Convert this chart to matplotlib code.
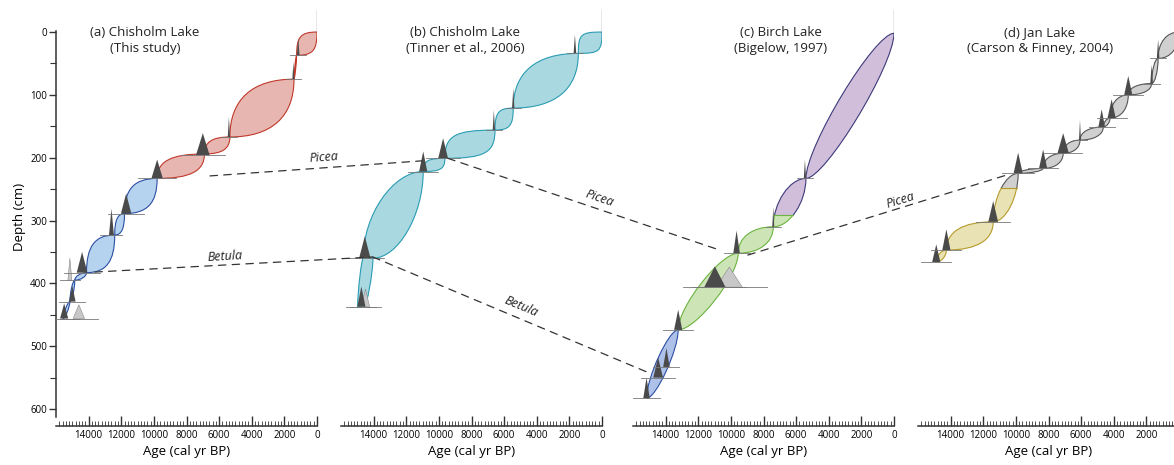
import numpy as np
import matplotlib
matplotlib.use("Agg")
import matplotlib.pyplot as plt
from matplotlib.path import Path
from matplotlib.patches import PathPatch, Rectangle, ConnectionPatch
from matplotlib.ticker import FixedLocator

plt.rcParams['font.family'] = ['Open Sans', 'DejaVu Sans']

# ---- data (age in cal yr BP, depth in cm) ----
# (a) Chisholm Lake, this study
a_env_age = [0, 1250, 1410, 5340, 6900, 9800, 11800, 12400, 14130, 14850, 15150, 15560]
a_env_depth = [0, 37, 75, 167, 194, 233, 289, 323, 383, 395, 429, 456]
a_env_spread = [0, 0, 0, 0, 0, 0, 0, 0, 0, 0, 0, 0]
a_env_bulge = [0.8, 0.3, 0.65, 0.7, 0.7, 0.7, 0.7, 0.7, 0.5, 0.4, 0.3]
a_zone_top = [-50, 233]
a_zone_fill = ['#e8b6b0', '#b5d2ee']
a_zone_edge = ['#c0392b', '#2c4fa3']
a_date_age = [1150, 1450, 5400, 7000, 9800, 11700, 12600, 14400, 15150, 15000, 14600, 15500]
a_date_depth = [37, 75, 167, 196, 233, 289, 323, 383, 395, 429, 456, 456]
a_date_width = [80, 60, 70, 420, 350, 320, 150, 330, 120, 200, 350, 250]
a_date_height = [28, 28, 32, 35, 30, 32, 42, 33, 35, 25, 22, 24]
a_date_tone = ['d', 'd', 'd', 'd', 'd', 'd', 'd', 'd', 'l', 'd', 'l', 'd']

# (b) Chisholm Lake, Tinner et al. 2006
b_env_age = [0, 1450, 5440, 6560, 9630, 10960, 14340, 14780]
b_env_depth = [0, 34, 121, 156, 201, 222, 360, 437]
b_env_spread = [0, 0, 0, 0, 0, 0, 300, 200]
b_env_bulge = [0.9, 0.65, 0.8, 0.8, 0.8, 0.5, 0.3]
b_zone_top = [-50]
b_zone_fill = ['#a9d8e0']
b_zone_edge = ['#2a9cb3']
b_date_age = [1660, 5440, 6630, 9740, 10960, 14540, 14500, 14750]
b_date_depth = [34, 121, 156, 201, 222, 360, 437, 437]
b_date_width = [80, 70, 70, 300, 250, 350, 250, 250]
b_date_height = [30, 32, 32, 32, 32, 35, 28, 32]
b_date_tone = ['d', 'd', 'd', 'd', 'd', 'd', 'l', 'd']

# (c) Birch Lake, Bigelow 1997
c_env_age = [0, 5400, 7400, 9550, 13230, 15170]
c_env_depth = [2, 233, 310, 352, 474, 583]
c_env_spread = [0, 0, 0, 0, 0, 0]
c_env_bulge = [0.22, 0.5, 0.6, 0.3, 0.3]
c_zone_top = [-50, 291, 474]
c_zone_fill = ['#d0bedb', '#cde5b6', '#aec1e8']
c_zone_edge = ['#3d3a7a', '#6cb33f', '#2c4fa3']
c_date_age = [5460, 7400, 9650, 10100, 10980, 13230, 13950, 14460, 15170]
c_date_depth = [233, 310, 352, 406, 406, 474, 533, 550, 583]
c_date_width = [70, 60, 200, 800, 650, 250, 200, 300, 200]
c_date_height = [30, 32, 36, 32, 33, 32, 30, 32, 33]
c_date_tone = ['d', 'd', 'd', 'l', 'd', 'd', 'd', 'd', 'd']

# (d) Jan Lake, Carson & Finney 2004
d_env_age = [0, 1280, 1680, 3110, 4230, 4640, 6070, 7100, 8330, 9860, 11390, 14260, 14880]
d_env_depth = [0, 42, 82, 100, 137, 151, 172, 193, 217, 225, 302, 347, 366]
d_env_spread = [0] * 13
d_env_bulge = [0.6, 0.5, 0.6, 0.6, 0.5, 0.6, 0.6, 0.6, 0.5, 0.5, 0.65, 0.5]
d_zone_top = [-50, 249]
d_zone_fill = ['#d0d0d0', '#e9e2b4']
d_zone_edge = ['#555555', '#b59a2a']
d_date_age = [1280, 1680, 3110, 4130, 4740, 6070, 7100, 8330, 9860, 11390, 14260, 14880]
d_date_depth = [42, 82, 100, 137, 151, 172, 193, 217, 225, 302, 347, 366]
d_date_width = [80, 80, 250, 250, 200, 60, 350, 250, 280, 300, 250, 250]
d_date_height = [30, 30, 30, 30, 28, 32, 32, 30, 33, 33, 33, 28]
d_date_tone = ['d'] * 12

titles = ['(a) Chisholm Lake\n(This study)',
          '(b) Chisholm Lake\n(Tinner et al., 2006)',
          '(c) Birch Lake\n(Bigelow, 1997)',
          '(d) Jan Lake\n(Carson & Finney, 2004)']
title_x = [0.341, 0.475, 0.567, 0.467]

# tick labels shown on each age axis (panel d is cut at the right edge)
age_ticks = [np.arange(0, 14001, 2000)] * 3 + [np.arange(2000, 14001, 2000)]

# correlation lines: (panel, age, depth) -> (panel, age, depth)
links = [
    ('Picea', 0, 6560, 229, 1, 11040, 205),
    ('Picea', 1, 9450, 201, 2, 10800, 346),
    ('Picea', 2, 8960, 355, 3, 10370, 226),
    ('Betula', 0, 13620, 382, 1, 14050, 358),
    ('Betula', 1, 14050, 358, 2, 14970, 543),
]
link_label_frac = [0.54, 0.55, 0.59, 0.47, 0.52]
link_label_off = [10, 11, 7, 8, 12]

CORE_TOP_STEM = -35

# ---- layout ----
W, H = 1174, 465
fig = plt.figure(figsize=(W / 100, H / 100), dpi=100)
AXIS_Y_PX = 426
TOP_PX = 6.9
PANEL_LEFT_PX = [56, 341, 633, 918]
PANEL_W_PX = 261

axes = []
for i, left in enumerate(PANEL_LEFT_PX):
    ax = fig.add_axes([left / W, (H - AXIS_Y_PX) / H, PANEL_W_PX / W, (AXIS_Y_PX - TOP_PX) / H])
    ax.set_xlim(16000, 0)
    ax.set_ylim(627, -40)
    ax.patch.set_alpha(0)
    for s in ['top', 'right']:
        ax.spines[s].set_visible(False)
    ax.spines['bottom'].set_color('#333333')
    ax.spines['bottom'].set_linewidth(1.1)
    ax.xaxis.set_major_locator(FixedLocator(age_ticks[i]))
    ax.xaxis.set_minor_locator(FixedLocator(np.arange(0, 16000, 200)))
    ax.tick_params(axis='x', which='major', direction='in', length=7, width=1,
                   color='#333333', pad=3, labelsize=7)
    ax.tick_params(axis='x', which='minor', direction='in', length=3.5, width=0.6,
                   color='#333333')
    ax.set_xlabel('Age (cal yr BP)', fontsize=9.5, labelpad=3)
    if i == 0:
        ax.spines['left'].set_bounds(-2, 612)
        ax.spines['left'].set_color('#333333')
        ax.spines['left'].set_linewidth(1.1)
        ax.yaxis.set_major_locator(FixedLocator(np.arange(0, 601, 100)))
        ax.yaxis.set_minor_locator(FixedLocator(np.arange(50, 601, 100)))
        ax.tick_params(axis='y', which='major', direction='out', length=5, width=1,
                       color='#333333', pad=1.5, labelsize=7)
        ax.tick_params(axis='y', which='minor', direction='out', length=4, width=0.8,
                       color='#333333')
        ax.set_ylabel('Depth (cm)', fontsize=9.5, labelpad=3)
    else:
        ax.spines['left'].set_visible(False)
        ax.tick_params(axis='y', which='both', left=False, labelleft=False)
    ax.text(title_x[i], 0.9187, titles[i], transform=ax.transAxes, ha='center',
            va='center', ma='center', fontsize=9.5, linespacing=1.3, color='#222222')
    axes.append(ax)


def cut_extent(path, depth):
    # horizontal extent of a closed path at a given depth
    xs = []
    for poly in path.to_polygons():
        for (x0, y0), (x1, y1) in zip(poly[:-1], poly[1:]):
            if (y0 - depth) * (y1 - depth) <= 0 and y0 != y1:
                xs.append(x0 + (depth - y0) * (x1 - x0) / (y1 - y0))
    return (min(xs), max(xs)) if xs else None


def envelope(ax, ages, depths, spread, bulge, zone_top, zone_fill, zone_edge):
    tops = list(zone_top)
    bots = tops[1:] + [1000]
    for i in range(len(ages) - 1):
        a0, d0, w0 = ages[i], depths[i], spread[i]
        a1, d1, w1 = ages[i + 1], depths[i + 1], spread[i + 1]
        k = bulge[i]
        p0u, p1u = np.array([a0 + w0, d0]), np.array([a1 + w1, d1])
        cu = np.array([a1 + w1, d0])
        p0l, p1l = np.array([a0 - w0, d0]), np.array([a1 - w1, d1])
        cl = np.array([a0 - w0, d1])
        verts = [p0l, p0u, p0u + k * (cu - p0u), p1u + k * (cu - p1u), p1u,
                 p1l, p1l + k * (cl - p1l), p0l + k * (cl - p0l), p0l, p0l]
        codes = [Path.MOVETO, Path.LINETO, Path.CURVE4, Path.CURVE4, Path.CURVE4,
                 Path.LINETO, Path.CURVE4, Path.CURVE4, Path.CURVE4, Path.CLOSEPOLY]
        path = Path(verts, codes)
        for top, bot, fc, ec in zip(tops, bots, zone_fill, zone_edge):
            if bot <= d0 or top >= d1:
                continue
            patch = PathPatch(path, fc=fc, ec=ec, lw=0.8, zorder=2)
            ax.add_patch(patch)
            if top > d0 or bot < d1:
                clip = Rectangle((-1000, top), 20000, bot - top, transform=ax.transData)
                patch.set_clip_path(clip)
            if top > d0:
                ext = cut_extent(path, top)
                if ext:
                    ax.plot(ext, [top, top], color=ec, lw=0.8, zorder=2)


def dates(ax, ages, depths, widths, heights, tones):
    for a, d, w, h, t in zip(ages, depths, widths, heights, tones):
        base = 2.5 * w + 300
        ax.plot([a - base, a + base], [d, d], color='#777777', lw=0.6, zorder=4)
        if t == 'd':
            ax.fill([a + w, a, a - w], [d, d - h, d], color='#4a4a4a', lw=0, zorder=3)
        else:
            ax.fill([a + w, a, a - w], [d, d - h, d], fc='#c8c8c8', ec='#8a8a8a',
                    lw=0.4, zorder=3)


panels = [
    (a_env_age, a_env_depth, a_env_spread, a_env_bulge, a_zone_top, a_zone_fill, a_zone_edge,
     a_date_age, a_date_depth, a_date_width, a_date_height, a_date_tone),
    (b_env_age, b_env_depth, b_env_spread, b_env_bulge, b_zone_top, b_zone_fill, b_zone_edge,
     b_date_age, b_date_depth, b_date_width, b_date_height, b_date_tone),
    (c_env_age, c_env_depth, c_env_spread, c_env_bulge, c_zone_top, c_zone_fill, c_zone_edge,
     c_date_age, c_date_depth, c_date_width, c_date_height, c_date_tone),
    (d_env_age, d_env_depth, d_env_spread, d_env_bulge, d_zone_top, d_zone_fill, d_zone_edge,
     d_date_age, d_date_depth, d_date_width, d_date_height, d_date_tone),
]

for ax, p in zip(axes, panels):
    envelope(ax, *p[:7])
    dates(ax, *p[7:])
    # core-top stem
    ax.plot([p[0][0], p[0][0]], [CORE_TOP_STEM, p[1][0]], color='#444444', lw=0.9, zorder=3)

# dashed correlation lines
for (name, ia, aa, da, ib, ab, db), frac, off in zip(links, link_label_frac, link_label_off):
    con = ConnectionPatch((aa, da), (ab, db), coordsA='data', coordsB='data',
                          axesA=axes[ia], axesB=axes[ib], color='#333333', lw=0.9,
                          linestyle=(0, (6, 5)), zorder=5)
    fig.add_artist(con)
    xa, ya = axes[ia].transData.transform((aa, da))
    xb, yb = axes[ib].transData.transform((ab, db))
    ang = np.degrees(np.arctan2(yb - ya, xb - xa))
    x = xa + frac * (xb - xa) - off * np.sin(np.radians(ang))
    y = ya + frac * (yb - ya) + off * np.cos(np.radians(ang))
    fx, fy = fig.transFigure.inverted().transform((x, y))
    fig.text(fx, fy, name, rotation=ang, rotation_mode='anchor', ha='center', va='center',
             fontsize=9, style='italic', color='#222222')

fig.savefig('out.png', dpi=100)
